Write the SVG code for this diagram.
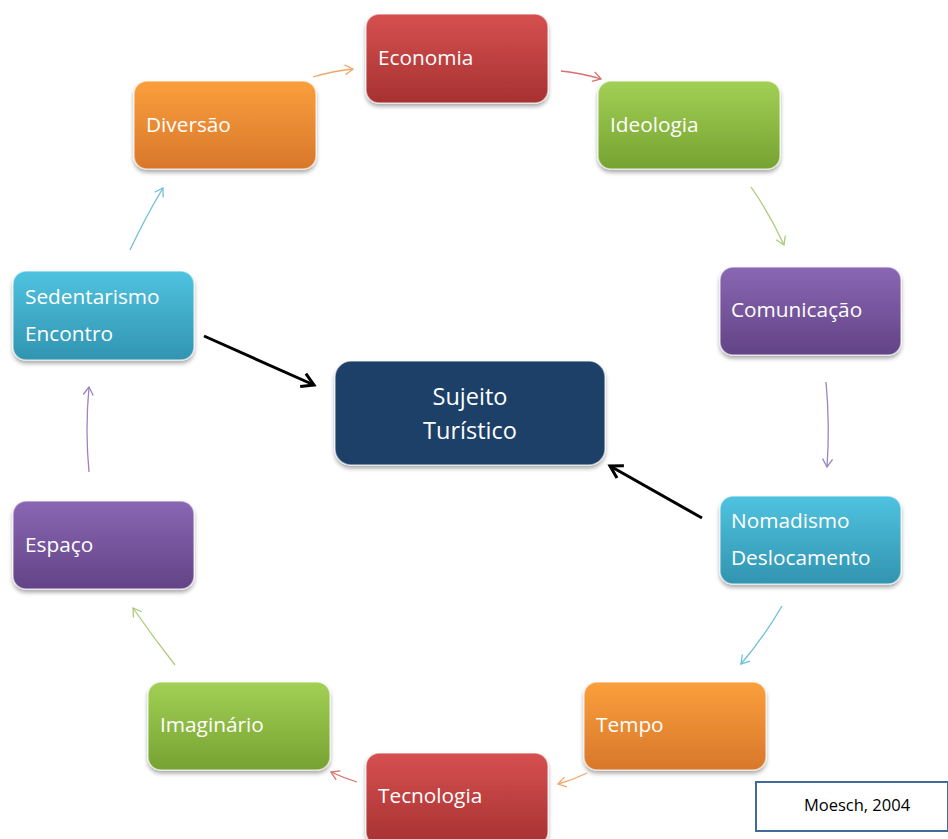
<svg xmlns="http://www.w3.org/2000/svg" width="948" height="839" viewBox="0 0 948 839">
<style>
.lbl{font-family:"Open Sans","Liberation Sans",sans-serif;font-size:20.8px;fill:#ffffff}
.ctr{font-family:"Open Sans","Liberation Sans",sans-serif;font-size:23.5px;fill:#ffffff;text-anchor:middle}
.box{stroke:#ffffff;stroke-opacity:0.55;stroke-width:1.5;filter:url(#sh)}
.con{fill:none;stroke-width:1.3}
.blk{fill:none;stroke:#000;stroke-width:3}
</style>
<defs>
<filter id="sh" x="-10%" y="-10%" width="120%" height="130%">
<feGaussianBlur in="SourceAlpha" stdDeviation="2"/>
<feOffset dx="0" dy="3"/>
<feComponentTransfer><feFuncA type="linear" slope="0.35"/></feComponentTransfer>
<feMerge><feMergeNode/><feMergeNode in="SourceGraphic"/></feMerge>
</filter>
<linearGradient id="gR" x1="0" y1="0" x2="0" y2="1"><stop offset="0" stop-color="#d65050"/><stop offset="1" stop-color="#a73131"/></linearGradient>
<linearGradient id="gG" x1="0" y1="0" x2="0" y2="1"><stop offset="0" stop-color="#a2d054"/><stop offset="1" stop-color="#76a232"/></linearGradient>
<linearGradient id="gP" x1="0" y1="0" x2="0" y2="1"><stop offset="0" stop-color="#8a67b3"/><stop offset="1" stop-color="#624386"/></linearGradient>
<linearGradient id="gC" x1="0" y1="0" x2="0" y2="1"><stop offset="0" stop-color="#4fc3e0"/><stop offset="1" stop-color="#3194b0"/></linearGradient>
<linearGradient id="gO" x1="0" y1="0" x2="0" y2="1"><stop offset="0" stop-color="#fb9f3c"/><stop offset="1" stop-color="#d8772b"/></linearGradient>
<marker id="mR" markerWidth="12" markerHeight="12" refX="10" refY="6" orient="auto" markerUnits="userSpaceOnUse"><path d="M2,1 L10,6 L2,11" fill="none" stroke="#d9706b" stroke-width="1.3"/></marker>
<marker id="mO" markerWidth="12" markerHeight="12" refX="10" refY="6" orient="auto" markerUnits="userSpaceOnUse"><path d="M2,1 L10,6 L2,11" fill="none" stroke="#f3a66a" stroke-width="1.3"/></marker>
<marker id="mG" markerWidth="12" markerHeight="12" refX="10" refY="6" orient="auto" markerUnits="userSpaceOnUse"><path d="M2,1 L10,6 L2,11" fill="none" stroke="#aacb7a" stroke-width="1.3"/></marker>
<marker id="mP" markerWidth="12" markerHeight="12" refX="10" refY="6" orient="auto" markerUnits="userSpaceOnUse"><path d="M2,1 L10,6 L2,11" fill="none" stroke="#9a84c0" stroke-width="1.3"/></marker>
<marker id="mC" markerWidth="12" markerHeight="12" refX="10" refY="6" orient="auto" markerUnits="userSpaceOnUse"><path d="M2,1 L10,6 L2,11" fill="none" stroke="#6dbfd8" stroke-width="1.3"/></marker>
<marker id="mK" markerWidth="20" markerHeight="20" refX="16" refY="10" orient="auto" markerUnits="userSpaceOnUse"><path d="M4,3 L16,10 L4,17" fill="none" stroke="#000" stroke-width="3"/></marker>
</defs>
<rect width="948" height="839" fill="#ffffff"/>

<g id="connectors">
<path class="con" stroke="#f3a66a" marker-end="url(#mO)" d="M313,77 Q333,71 353,69"/>
<path class="con" stroke="#d9706b" marker-end="url(#mR)" d="M561,71 Q581,73 601,79"/>
<path class="con" stroke="#aacb7a" marker-end="url(#mG)" d="M751,187 Q770,214 784,245"/>
<path class="con" stroke="#9a84c0" marker-end="url(#mP)" d="M826,382 Q830,425 827,467"/>
<path class="con" stroke="#6dbfd8" marker-end="url(#mC)" d="M782,606 Q764,637 741,664"/>
<path class="con" stroke="#f3a66a" marker-end="url(#mO)" d="M587,773 Q573,780 558,784"/>
<path class="con" stroke="#d9706b" marker-end="url(#mR)" d="M357,782 Q344,778 331,772"/>
<path class="con" stroke="#aacb7a" marker-end="url(#mG)" d="M175,665 Q153,637 133,608"/>
<path class="con" stroke="#9a84c0" marker-end="url(#mP)" d="M89,472 Q85,430 89,387"/>
<path class="con" stroke="#6dbfd8" marker-end="url(#mC)" d="M130,250 Q145,218 163,188"/>
<path class="blk" marker-end="url(#mK)" d="M204,336 L314,385"/>
<path class="blk" marker-end="url(#mK)" d="M702,518 L610,466"/>
</g>

<g id="economia"><rect class="box" x="366" y="14" width="182" height="89" rx="13" fill="url(#gR)"/><text class="lbl" x="378" y="65">Economia</text></g>
<g id="ideologia"><rect class="box" x="598" y="81" width="182" height="88" rx="13" fill="url(#gG)"/><text class="lbl" x="610" y="132">Ideologia</text></g>
<g id="comunicacao"><rect class="box" x="720" y="267" width="181" height="88" rx="13" fill="url(#gP)"/><text class="lbl" x="731" y="317">Comunicação</text></g>
<g id="nomadismo"><rect class="box" x="720" y="496" width="181" height="88" rx="13" fill="url(#gC)"/><text class="lbl" x="731" y="528">Nomadismo</text><text class="lbl" x="731" y="565">Deslocamento</text></g>
<g id="tempo"><rect class="box" x="584" y="682" width="182" height="88" rx="13" fill="url(#gO)"/><text class="lbl" x="596" y="732">Tempo</text></g>
<g id="tecnologia"><rect class="box" x="366" y="753" width="182" height="92" rx="13" fill="url(#gR)"/><text class="lbl" x="378" y="803">Tecnologia</text></g>
<g id="imaginario"><rect class="box" x="148" y="682" width="182" height="88" rx="13" fill="url(#gG)"/><text class="lbl" x="160" y="732">Imaginário</text></g>
<g id="espaco"><rect class="box" x="13" y="501" width="181" height="88" rx="13" fill="url(#gP)"/><text class="lbl" x="25" y="552">Espaço</text></g>
<g id="sedentarismo"><rect class="box" x="13" y="271" width="181" height="89" rx="13" fill="url(#gC)"/><text class="lbl" x="25" y="304">Sedentarismo</text><text class="lbl" x="25" y="341">Encontro</text></g>
<g id="diversao"><rect class="box" x="134" y="81" width="182" height="88" rx="13" fill="url(#gO)"/><text class="lbl" x="146" y="132">Diversão</text></g>
<g id="sujeito"><rect class="box" x="335" y="361" width="270" height="104" rx="16" fill="#1f4068"/><text class="ctr" x="470" y="405">Sujeito</text><text class="ctr" x="470" y="439">Turístico</text></g>
<g id="moesch"><rect x="756" y="782" width="192" height="49" fill="#ffffff" stroke="#41699a" stroke-width="2"/><text x="857" y="811" font-family="Open Sans, Liberation Sans, sans-serif" font-size="16.5" fill="#000" text-anchor="middle">Moesch, 2004</text></g>
</svg>
